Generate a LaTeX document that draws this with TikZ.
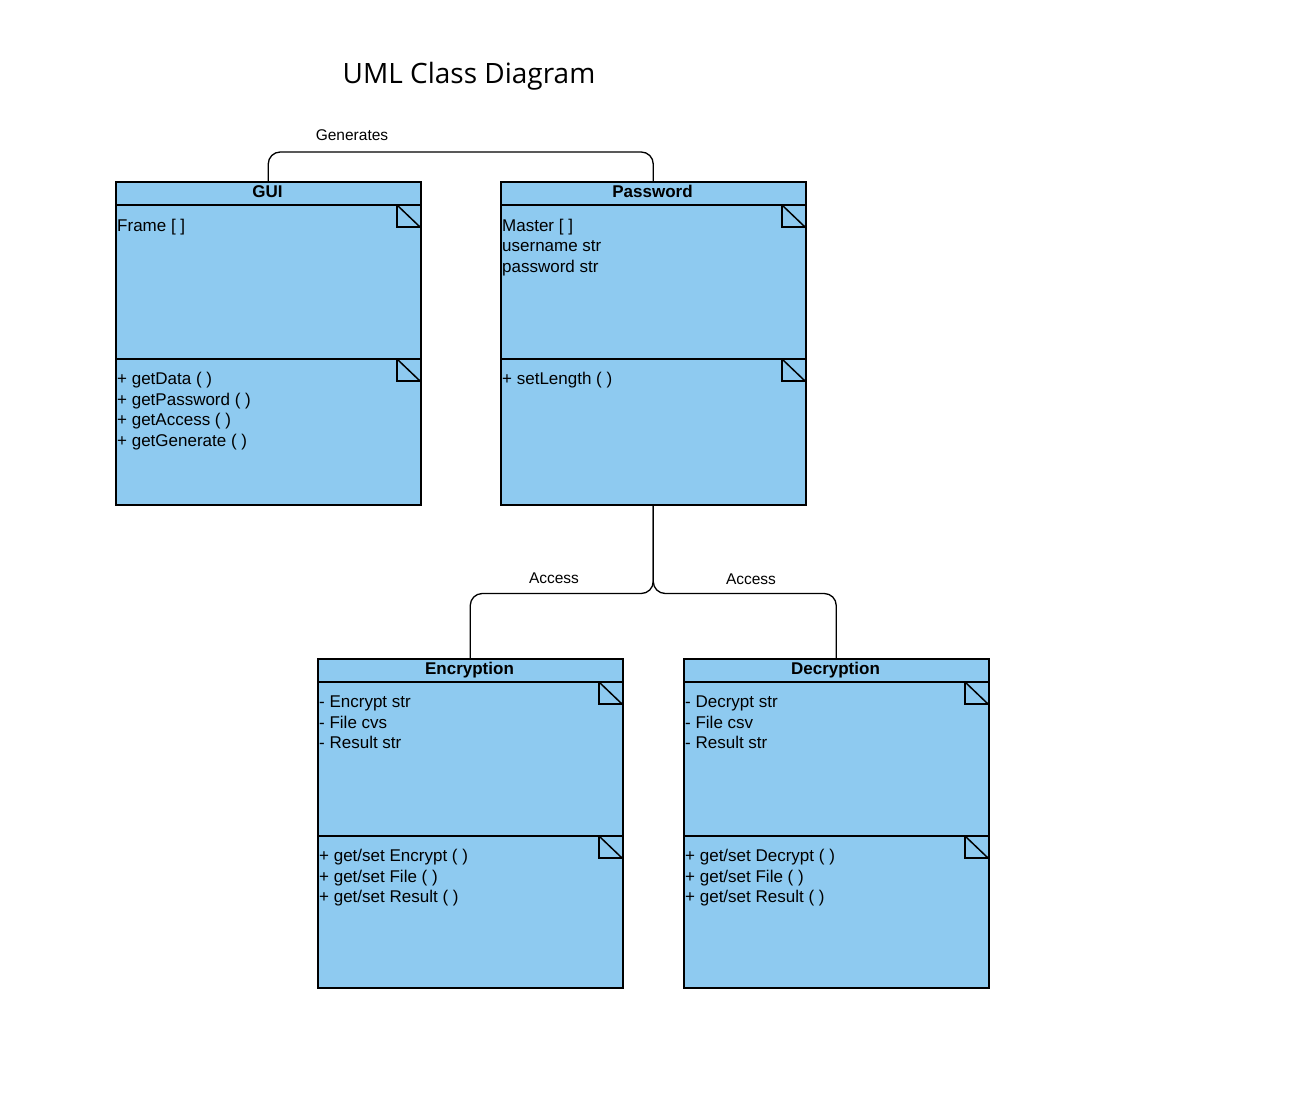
\documentclass[tikz,border=0pt]{standalone}
\usepackage{fontspec}
\setmainfont{Liberation Sans}
\newfontfamily\titlefont{Open Sans}
\usetikzlibrary{positioning}
\definecolor{classblue}{RGB}{142,202,240}
\tikzset{
 classbox/.style={draw=black, fill=classblue, line width=1.5pt, minimum width=305pt, anchor=north west, inner sep=0pt},
 membertext/.style={anchor=north west, align=left, inner sep=0pt, font=\fontsize{17}{20.6}\selectfont},
 classtitle/.style={anchor=base, inner sep=0pt, font=\bfseries\fontsize{17}{20}\selectfont},
 linklabel/.style={inner sep=1pt, font=\fontsize{15.5}{18}\selectfont},
 link/.style={line width=1.3pt, rounded corners=12pt}
}
\newcommand{\fold}[2]{
\draw [line width=1.5pt] (#1-23,#2) -- (#1-23,#2+22) -- (#1,#2+22);
\draw [line width=1.5pt] (#1-23,#2) -- (#1,#2+22);
}
\newcommand{\umlclass}[7]{
\begin{scope}[shift={(#2,#3)}]
\node [classbox, minimum height=#4pt] (#1) at (0,0) {};
\node [classtitle] (#1-title) at (152.5,16) {#5};
\draw [line width=2.6pt] (0,24) -- (305,24);
\draw [line width=1.5pt] (0,178) -- (305,178);
\fold{305}{24}
\fold{305}{178}
\node [membertext] (#1-attr) at (2,37.8) {#6};
\node [membertext] (#1-ops) at (2,191) {#7};
\end{scope}
}
\begin{document}
\begin{tikzpicture}[x=1pt, y=-1pt]
\useasboundingbox (0,0) rectangle (1297,1113);
\node [font=\titlefont\fontsize{28}{34}\selectfont] (title) at (469,76) {UML Class Diagram};

\umlclass{gui}{115}{181}{323}{GUI}{Frame [ ]}
 {+ getData ( )\\+ getPassword ( )\\+ getAccess ( )\\+ getGenerate ( )}
\umlclass{pwd}{500}{181}{323}{Password}{Master [ ]\\username str\\password str}
 {+ setLength ( )}
\umlclass{enc}{317}{658}{329}{Encryption}{- Encrypt str\\- File cvs\\- Result str}
 {+ get/set Encrypt ( )\\+ get/set File ( )\\+ get/set Result ( )}
\umlclass{dec}{683}{658}{329}{Decryption}{- Decrypt str\\- File csv\\- Result str}
 {+ get/set Decrypt ( )\\+ get/set File ( )\\+ get/set Result ( )}

\draw [link] (gui.north) -- ++(0,-29) -| (pwd.north);
\draw [link] (pwd.south) -- ++(0,88) -| (enc.north);
\draw [link] (pwd.south) -- ++(0,88) -| (dec.north);

\node [linklabel] (generates) at (352,135) {Generates};
\node [linklabel] (access-enc) at (554,578) {Access};
\node [linklabel] (access-dec) at (751,579) {Access};
\end{tikzpicture}
\end{document}
